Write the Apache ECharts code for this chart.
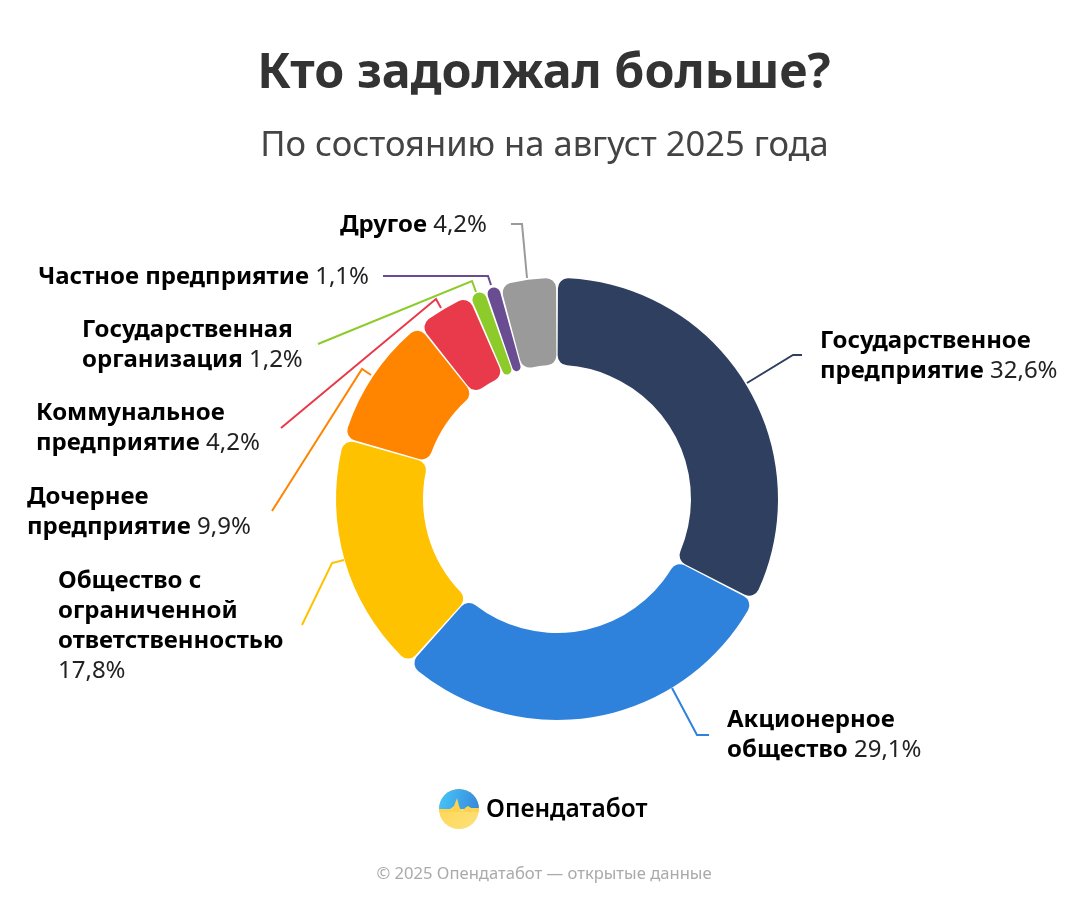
<!DOCTYPE html>
<html><head><meta charset="utf-8">
<script src="https://cdn.jsdelivr.net/npm/echarts@6/dist/echarts.min.js"></script>
<style>html,body{margin:0;padding:0;background:#fff}#c{width:1088px;height:907px}</style>
</head><body><div id="c"></div>
<script>
const categories = ['Государственное предприятие','Акционерное общество','Общество с ограниченной ответственностью','Дочернее предприятие','Коммунальное предприятие','Государственная организация','Частное предприятие','Другое'];
const nameLines = [['Государственное','предприятие'],['Акционерное','общество'],['Общество с','ограниченной','ответственностью'],['Дочернее','предприятие'],['Коммунальное','предприятие'],['Государственная','организация'],['Частное предприятие'],['Другое']];
const values = [32.6,29.1,17.8,9.9,4.2,1.2,1.1,4.2];
const valueOnOwnLine = [false,false,true,false,false,false,false,false];
const colors = ['#2F3F60','#2E82DC','#FFC200','#FF8500','#E83A4A','#8CCB2A','#6A4C93','#9A9A9A'];
const labelAnchors = [[820,325],[727,704],[58,565],[27,481],[36,397],[82,314],[38,261],[340,209]];
const leaderLines = [
 [[747,383],[793,355],[802,355]],
 [[672,688],[697,735],[709,735]],
 [[344,560],[332,563],[302,625]],
 [[371,375],[362,369],[272,511]],
 [[441,308],[436,299],[281,428]],
 [[476,292],[472,281],[318,344]],
 [[491,285],[488,276],[383,276]],
 [[527,278],[522,224],[511,224]]
];
const FONT = '"Noto Sans","Open Sans",sans-serif';
const fmt = i => {
  const pct = String(values[i]).replace('.',',')+'%';
  const lines = nameLines[i].map(s=>'{b|'+s+'}');
  if (valueOnOwnLine[i]) return lines.join('\n')+'\n{v|'+pct+'}';
  lines[lines.length-1] += '{v| '+pct+'}';
  return lines.join('\n');
};
const chart = echarts.init(document.getElementById('c'),null,{renderer:'canvas'});
chart.setOption({
  animation:false,
  title:[
    {text:'Кто задолжал больше?',left:539,top:45,textAlign:'center',textStyle:{fontFamily:FONT,fontSize:48.4,fontWeight:700,color:'#333'}},
    {text:'По состоянию на август 2025 года',left:539.5,top:124,textAlign:'center',textStyle:{fontFamily:FONT,fontSize:34.5,fontWeight:400,color:'#444'}}
  ],
  series:[{
    type:'pie',center:[557,499],radius:[134,221],startAngle:90,clockwise:true,padAngle:0.5,
    itemStyle:{borderRadius:10},
    label:{show:true,position:'outside',formatter:p=>fmt(p.dataIndex),color:'#000',
      rich:{b:{fontFamily:FONT,fontSize:24,fontWeight:700,color:'#000',lineHeight:30},v:{fontFamily:FONT,fontSize:24,fontWeight:400,color:'#222',lineHeight:30}}},
    labelLine:{show:true,length:10,length2:10,lineStyle:{width:2}},
    labelLayout:p=>({x:labelAnchors[p.dataIndex][0],y:labelAnchors[p.dataIndex][1]+1,align:'left',verticalAlign:'top',labelLinePoints:leaderLines[p.dataIndex]}),
    data:categories.map((n,i)=>({name:n,value:values[i],itemStyle:{color:colors[i]}}))
  }],
  graphic:[
    {type:'circle',shape:{cx:459,cy:809,r:20},style:{fill:new echarts.graphic.LinearGradient(0,0,1,1,[{offset:0,color:'#FFD34F'},{offset:1,color:'#FBE27A'}])}},
    {type:'sector',shape:{cx:459,cy:809,r:20,r0:0,startAngle:Math.PI,endAngle:2*Math.PI},style:{fill:new echarts.graphic.LinearGradient(0,0,1,0.6,[{offset:0,color:'#45C8FC'},{offset:1,color:'#3A8ADC'}])}},
    {type:'polygon',shape:{points:[[439,809],[450,809],[454,806],[457,798],[459,806],[462,813],[465,808],[468,806],[471,808],[479,808],[479,812],[439,812]]},style:{fill:'#FFD34F'}},
    {type:'text',style:{text:'Опендатабот',x:486,y:810,verticalAlign:'middle',font:'600 24.5px "Noto Sans"',fill:'#000'}},
    {type:'text',style:{text:'© 2025 Опендатабот — открытые данные',x:544,y:874,align:'center',verticalAlign:'middle',font:'400 16.6px "Noto Sans"',fill:'#AAAAAA'}}
  ]
});
</script></body></html>
